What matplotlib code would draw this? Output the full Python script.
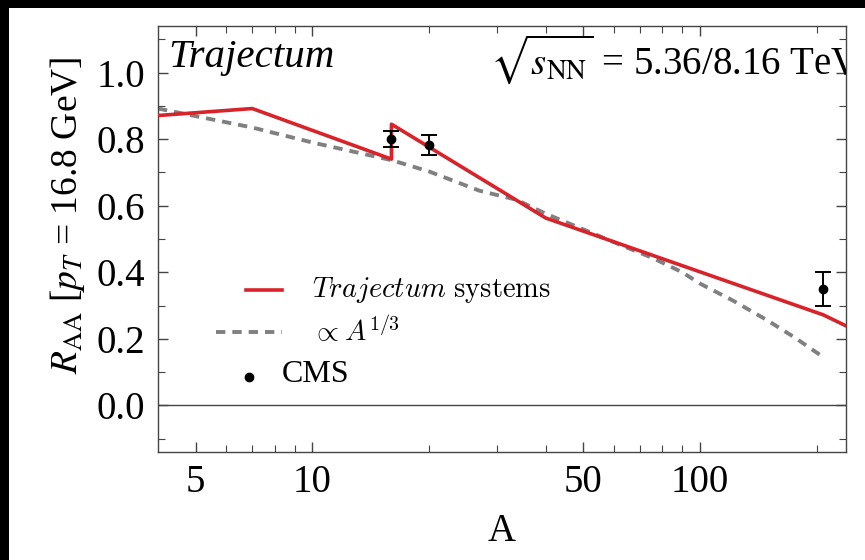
import matplotlib
matplotlib.use('Agg')
import matplotlib.pyplot as plt
from matplotlib.lines import Line2D
from matplotlib.patches import Rectangle

# Trajectum R_AA vs mass number (piecewise, jump at A=16)
traj_A = [4, 7, 16, 16, 40, 208, 238]
traj_raa = [0.871, 0.892, 0.740, 0.845, 0.563, 0.272, 0.239]

# A^(1/3) scaling curve
scal_A = [4, 7, 10, 16, 20, 27, 33.6, 40, 63, 75.5, 90, 100, 121.6, 148, 175, 208]
scal_raa = [0.892, 0.835, 0.790, 0.737, 0.703, 0.645, 0.618, 0.576, 0.480, 0.443,
            0.400, 0.366, 0.315, 0.258, 0.205, 0.145]

# CMS data
cms_A = [16, 20, 208]
cms_raa = [0.800, 0.781, 0.350]
cms_err = [0.025, 0.030, 0.050]

x_major = [5, 10, 50, 100]
x_minor = [6, 7, 8, 9, 20, 30, 40, 60, 70, 80, 90, 200]

SERIF = 'Liberation Serif'
RED = '#d8232a'
GRAY = '#808080'
AXCOL = '#444444'

plt.rcParams['font.family'] = SERIF
plt.rcParams['mathtext.fontset'] = 'stix'

fig = plt.figure(figsize=(8.65, 5.6), dpi=100)
fig.patch.set_facecolor('white')
# dark strips along top and left edges
fig.patches.append(Rectangle((0, 1 - 8 / 560), 1, 8 / 560, transform=fig.transFigure,
                             facecolor='black', edgecolor='none', zorder=-1))
fig.patches.append(Rectangle((0, 0), 9 / 865, 1, transform=fig.transFigure,
                             facecolor='black', edgecolor='none', zorder=-1))

ax = fig.add_axes([158 / 865, 108 / 560, 688 / 865, 426 / 560])
ax.set_xscale('log')
ax.set_xlim(4, 238)
ax.set_ylim(-0.14, 1.14)

ax.axhline(0, color=AXCOL, lw=1.0, zorder=1)
ax.plot(scal_A, scal_raa, color=GRAY, lw=2.8, dashes=(2.4, 1.8), zorder=2)
ax.plot(traj_A, traj_raa, color=RED, lw=2.6, zorder=3)
ax.errorbar(cms_A, cms_raa, yerr=cms_err, fmt='o', color='black', ms=6,
            elinewidth=1.4, capsize=6, capthick=1.4, zorder=4)

ax.set_xticks(x_major)
ax.set_xticklabels([str(v) for v in x_major])
ax.set_xticks(x_minor, minor=True)
ax.set_xticklabels([], minor=True)
ax.set_yticks([0.0, 0.2, 0.4, 0.6, 0.8, 1.0])
ax.set_yticklabels(['0.0', '0.2', '0.4', '0.6', '0.8', '1.0'])
ax.set_yticks([-0.1, 0.1, 0.3, 0.5, 0.7, 0.9, 1.1], minor=True)

ax.tick_params(which='both', direction='in', top=True, right=True, color=AXCOL,
               labelsize=28)
ax.tick_params(which='major', length=7, width=1.0)
ax.tick_params(which='minor', length=5, width=0.8)
ax.tick_params(axis='y', pad=9)
ax.tick_params(axis='x', pad=9)
for sp in ax.spines.values():
    sp.set_color(AXCOL)
    sp.set_linewidth(1.0)

ax.set_xlabel('A', fontsize=28, labelpad=8)
ax.set_ylabel(r'$R_{\rm AA}$ [$p_T$ = 16.8 GeV]', fontsize=27)
ax.yaxis.set_label_coords(-0.103, 0.556)

ax.text(0.015, 0.904, 'Trajectum', transform=ax.transAxes, fontsize=29.5,
        style='italic', va='baseline', ha='left')
ax.text(0.483, 0.887, r'$\sqrt{s_{\rm NN}}$ = 5.36/8.16 TeV', transform=ax.transAxes,
        fontsize=28, va='baseline', ha='left', clip_on=True)

# legend drawn by hand
def ax_pt(px, py):
    return ((px - 158) / 688, (452 - py) / 426)

x0, y0 = ax_pt(246, 290)
x1, _ = ax_pt(282, 290)
ax.add_line(Line2D([x0, x1], [y0, y0], transform=ax.transAxes, color=RED, lw=2.6))
tx, ty = ax_pt(312, 297)
ax.text(tx, ty, r'$\mathit{Trajectum}\ \mathrm{systems}$', transform=ax.transAxes,
        fontsize=20.5, va='baseline', ha='left', math_fontfamily='cm')

x0, y1 = ax_pt(216, 332)
ax.add_line(Line2D([x0, x1], [y1, y1], transform=ax.transAxes, color=GRAY, lw=2.8,
                   dashes=(2.4, 1.8)))
_, ty = ax_pt(312, 341)
ax.text(tx, ty, r'$\propto A^{1/3}$', transform=ax.transAxes,
        fontsize=20.5, va='baseline', ha='left', math_fontfamily='cm')

mx, y2 = ax_pt(249, 377)
ax.plot([mx], [y2], 'o', color='black', ms=6, transform=ax.transAxes)
cx, ty = ax_pt(282, 382)
ax.text(cx, ty, 'CMS', transform=ax.transAxes, fontsize=23, va='baseline', ha='left')

fig.savefig('out.png', dpi=100)
